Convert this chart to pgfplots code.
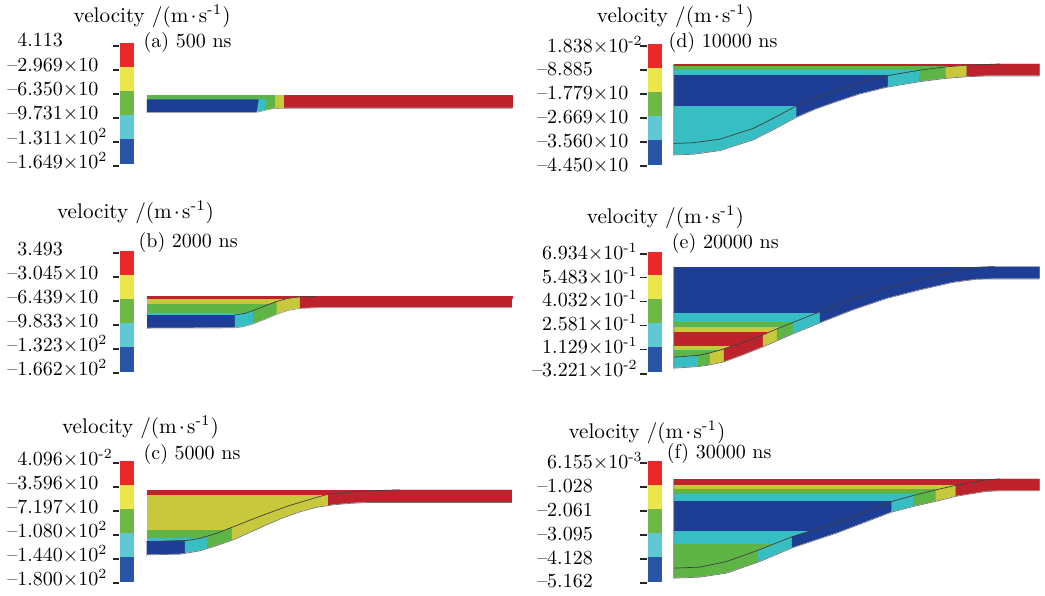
\documentclass[border=0pt]{standalone}
\usepackage{pgfplots}
\pgfplotsset{compat=1.18}
\definecolor{dred}{RGB}{190,35,45}
\definecolor{dyel}{RGB}{200,200,60}
\definecolor{dgrn}{RGB}{95,180,70}
\definecolor{dcyn}{RGB}{55,190,195}
\definecolor{dblu}{RGB}{30,62,150}
\definecolor{cred}{RGB}{235,40,40}
\definecolor{cyel}{RGB}{235,230,75}
\definecolor{cgrn}{RGB}{110,185,70}
\definecolor{ccyn}{RGB}{95,200,210}
\definecolor{cblu}{RGB}{40,85,165}
\newcommand{\rect}[5]{\addplot[fill=#1,draw=#1,line width=0.1pt] coordinates {(#2,#4)(#3,#4)(#3,#5)(#2,#5)};}
\newcommand{\poly}[2]{\addplot[fill=#1,draw=#1,line width=0.1pt] coordinates {#2};}
\newcommand{\mask}[1]{\addplot[fill=white,draw=white,line width=0.3pt] coordinates {#1};}
\newcommand{\cbar}[8]{%
 \rect{cred}{#1}{#2}{#3}{#4}\rect{cyel}{#1}{#2}{#4}{#5}\rect{cgrn}{#1}{#2}{#5}{#6}%
 \rect{ccyn}{#1}{#2}{#6}{#7}\rect{cblu}{#1}{#2}{#7}{#8}}
\newcommand{\tk}[3]{\addplot[black!85,line width=0.9pt] coordinates {(#1,#3)(#2,#3)};}
\newcommand{\tks}[8]{\tk{#1}{#2}{#3}\tk{#1}{#2}{#4}\tk{#1}{#2}{#5}\tk{#1}{#2}{#6}\tk{#1}{#2}{#7}\tk{#1}{#2}{#8}}
\newcommand{\lab}[3]{\node[lbl] at (axis cs:#1,#2) {#3};}
\newcommand{\ttl}[2]{\node[ttl] at (axis cs:#1,#2) {velocity /(m\kern0.1em$\cdot$\kern0.1em s\textsuperscript{-1})};}
\newcommand{\sq}{\textsuperscript{2}}
\newcommand{\ph}{\phantom{--}}
\tikzset{lbl/.style={font=\fontsize{10}{12}\selectfont,inner sep=0pt,anchor=base west},
ttl/.style={font=\fontsize{10.6}{12}\selectfont,inner sep=0pt,anchor=base west}}
\begin{document}
\begin{tikzpicture}
\begin{axis}[width=522.5pt,height=298pt,scale only axis,xmin=0,xmax=1045,ymin=0,ymax=596,
 y dir=reverse,hide axis,clip=false,no markers,every axis plot/.append style={line join=round}]
\addplot[fill=white,draw=none] coordinates {(0,0)(1045,0)(1045,596)(0,596)};
% ================= (a)
\cbar{120}{133}{43}{67}{91}{115}{139}{163}
\tks{113}{119}{46}{70}{94}{118}{142}{166}
\ttl{73.3}{22.7}
\lab{143.3}{47.7}{(a) 500 ns}
\lab{7}{47}{\ph4.113}
\lab{7}{71.5}{--2.969×10}
\lab{7}{96}{--6.350×10}
\lab{7}{120}{--9.731×10}
\lab{7}{144.5}{--1.311×10\sq}
\lab{7}{168.5}{--1.649×10\sq}
\rect{dred}{147}{512}{95}{113}
\rect{dyel}{147}{283}{95}{113}
\rect{dgrn}{147}{274}{95}{113}
\poly{dcyn}{(147,99.3)(266.5,99.3)(264.5,113)(147,113)}
\poly{dblu}{(147,99.6)(258.5,99.6)(256.5,113)(147,113)}
\mask{(147,112.7)(253.3,112.7)(258.3,112)(266.7,110)(273.3,108.7)(282.7,108.3)(512,108.3)(516,108.3)(516,116)(147,116)}
\addplot[black!45,line width=0.3pt] coordinates {(147,112.7)(253.3,112.7)(258.3,112)(266.7,110)(273.3,108.7)(282.7,108.3)(512,108.3)};
% ================= (b)
\cbar{120}{133}{251}{275}{299}{323}{347}{371}
\tks{113}{119}{253}{277}{301}{325}{349}{373}
\ttl{56.7}{219}
\lab{138.3}{247.7}{(b) 2000 ns}
\lab{7}{255.5}{\ph3.493}
\lab{7}{279.5}{--3.045×10}
\lab{7}{303.5}{--6.439×10}
\lab{7}{327.5}{--9.833×10}
\lab{7}{351.5}{--1.323×10\sq}
\lab{7}{375.5}{--1.662×10\sq}
\rect{dcyn}{146.7}{315}{296.5}{316}
\rect{dgrn}{146.7}{315}{296.5}{311.7}
\rect{dyel}{146.7}{315}{296.5}{302.7}
\rect{dred}{146.7}{512}{296.5}{298.3}
\poly{dblu}{(146.7,315)(235,315)(235,330)(146.7,330)}
\poly{dcyn}{(235,315)(245,313.5)(253.3,310.7)(253.3,330)(235,330)}
\poly{dgrn}{(253.3,310.7)(265,306)(276.7,301.5)(276.7,330)(253.3,330)}
\poly{dyel}{(276.7,301.5)(288,298.5)(300,297)(300,330)(276.7,330)}
\poly{dred}{(300,297)(315,296.5)(512,296.5)(512,330)(300,330)}
\mask{(146.7,328.3)(233,328)(243,327)(253.3,324)(265,319.5)(276.7,314.5)(288,310.5)(300,308.5)(320,307.8)(512,307.8)(516,307.8)(516,332)(146.7,332)}
\addplot[black!45,line width=0.3pt] coordinates {(146.7,328.3)(233,328)(243,327)(253.3,324)(265,319.5)(276.7,314.5)(288,310.5)(300,308.5)(320,307.8)(512,307.8)};
\addplot[black!75,line width=0.35pt] coordinates {(235,315)(245,313.5)(253.3,310.7)(265,306)(276.7,301.5)(288,298.5)(300,297)(315,296.5)};
% ================= (c)
\cbar{120}{133}{461}{485}{509}{533}{557}{581}
\tks{113}{119}{463}{487}{511}{535}{559}{583}
\ttl{61.7}{433.3}
\lab{143.3}{459.3}{(c) 5000 ns}
\lab{7}{465.5}{\ph4.096×10\textsuperscript{-2}}
\lab{7}{489.5}{--3.596×10}
\lab{7}{513.5}{--7.197×10}
\lab{7}{537.5}{--1.080×10\sq}
\lab{7}{561.5}{--1.440×10\sq}
\lab{7}{585.5}{--1.800×10\sq}
\rect{dcyn}{146.7}{330}{490}{543}
\rect{dgrn}{146.7}{330}{490}{537.7}
\rect{dyel}{146.7}{330}{490}{529}
\rect{dred}{146.7}{400}{490}{494.3}
\poly{dblu}{(146.7,541.7)(185,540.8)(185,557)(146.7,557)}
\poly{dcyn}{(185,540.8)(186.7,540.7)(200,538.5)(207,536.5)(207,557)(185,557)}
\poly{dgrn}{(207,536.5)(215,534)(232,527.5)(232,557)(207,557)}
\poly{dyel}{(232,527.5)(233.3,527)(253.3,519)(273.3,511.5)(290,505.5)(300,502.5)(315,498)(328.3,494.3)(328.3,557)(232,557)}
\poly{dred}{(328.3,494.3)(350,492.3)(366.7,491)(400,490)(512,490)(512,557)(328.3,557)}
\mask{(146.7,555)(180,554.3)(200,551)(216,546)(233.3,540)(250,532.5)(266.7,525)(283,518)(300,512)(316,507.5)(333.3,505)(350,503.5)(366.7,502.7)(512,502.7)(516,502.7)(516,559)(146.7,559)}
\addplot[black!55,line width=0.35pt] coordinates {(146.7,555)(180,554.3)(200,551)(216,546)(233.3,540)(250,532.5)(266.7,525)(283,518)(300,512)(316,507.5)(333.3,505)(350,503.5)(366.7,502.7)(512,502.7)};
\addplot[black!75,line width=0.35pt] coordinates {(146.7,541.7)(186.7,540.7)(200,538.5)(215,534)(233.3,527)(253.3,519)(273.3,511.5)(290,505.5)(300,502.5)(315,498)(328.3,494.3)(350,492.3)(366.7,491)(400,490)};
% ================= (d)
\cbar{648}{661.5}{44}{68}{92}{116}{140}{164}
\tks{640}{647}{46}{70}{94}{118}{142}{166}
\ttl{596.7}{22.7}
\lab{668.3}{47.7}{(d) 10000 ns}
\lab{537}{53}{\ph1.838×10\textsuperscript{-2}}
\lab{537}{75.5}{--8.885}
\lab{537}{99.5}{--1.779×10}
\lab{537}{123.5}{--2.669×10}
\lab{537}{147.5}{--3.560×10}
\lab{537}{171.5}{--4.450×10}
\rect{dcyn}{674}{1000}{64}{146}
\rect{dblu}{674}{1000}{64}{105.3}
\rect{dcyn}{674}{1000}{64}{74}
\rect{dgrn}{674}{1000}{64}{68.7}
\rect{dred}{674}{1000}{64}{65.5}
\poly{dcyn}{(674,143.5)(693.3,142.8)(720,139.2)(753.3,128.5)(775,117.5)(796.7,105.8)(796.7,157)(674,157)}
\poly{dblu}{(796.7,105.8)(816,97.5)(836.7,90.2)(860,82.5)(886.7,75.8)(888,75.5)(888,157)(796.7,157)}
\poly{dcyn}{(888,75.5)(920,70.2)(920,157)(888,157)}
\poly{dgrn}{(920,70.2)(946,66.9)(946,157)(920,157)}
\poly{dyel}{(946,66.9)(967,65.2)(967,157)(946,157)}
\poly{dred}{(967,65.2)(986.7,64.5)(1000,64)(1040,64)(1040,157)(967,157)}
\mask{(674,155)(693.3,154.3)(720,150.7)(753.3,140)(775,129)(796.7,117.3)(816,109)(836.7,101.7)(860,94)(886.7,87.3)(920,81.7)(945,78.5)(966.7,76.7)(986.7,76)(1040,76)(1045,76)(1045,159)(674,159)}
\addplot[black!55,line width=0.35pt] coordinates {(674,64)(674,155)(693.3,154.3)(720,150.7)(753.3,140)(775,129)(796.7,117.3)(816,109)(836.7,101.7)(860,94)(886.7,87.3)(920,81.7)(945,78.5)(966.7,76.7)(986.7,76)(1040,76)};
\addplot[black!75,line width=0.35pt] coordinates {(674,143.5)(693.3,142.8)(720,139.2)(753.3,128.5)(775,117.5)(796.7,105.8)(816,97.5)(836.7,90.2)(860,82.5)(886.7,75.8)(920,70.2)(946,66.9)(967,65.2)(986.7,64.5)(1000,64)};
% ================= (e)
\cbar{648}{661}{251.7}{275.5}{299.4}{323.2}{347.1}{371}
\tks{640}{647}{254}{277.5}{301.5}{325.5}{349.5}{374}
\ttl{586.7}{223.3}
\lab{671.7}{248.3}{(e) 20000 ns}
\lab{532}{260}{\ph6.934×10\textsuperscript{-1}}
\lab{532}{283.5}{\ph5.483×10\textsuperscript{-1}}
\lab{532}{307}{\ph4.032×10\textsuperscript{-1}}
\lab{532}{330.5}{\ph2.581×10\textsuperscript{-1}}
\lab{532}{353.5}{\ph1.129×10\textsuperscript{-1}}
\lab{532}{377}{--3.221×10\textsuperscript{-2}}
\rect{dgrn}{674}{1000}{266.7}{359}
\rect{dyel}{674}{1000}{266.7}{349.3}
\rect{dred}{674}{1000}{266.7}{345}
\rect{dyel}{674}{1000}{266.7}{330.7}
\rect{dgrn}{674}{1000}{266.7}{326}
\rect{dcyn}{674}{1000}{266.7}{320.7}
\rect{dblu}{674}{1000}{266.7}{311.7}
\poly{dcyn}{(674,357.3)(698,355.5)(698,371)(674,371)}
\poly{dgrn}{(698,355.5)(710,353)(710,371)(698,371)}
\poly{dyel}{(710,353)(724,349)(724,371)(710,371)}
\poly{dred}{(724,349)(743,342.5)(763,335)(763,371)(724,371)}
\poly{dyel}{(763,335)(777,329)(777,371)(763,371)}
\poly{dgrn}{(777,329)(793,322.5)(793,371)(777,371)}
\poly{dcyn}{(793,322.5)(820,312)(820,371)(793,371)}
\poly{dblu}{(820,312)(853,299)(887,288)(920,279.5)(953,271.5)(977,267.3)(995,266.7)(1040,266.7)(1040,371)(820,371)}
\mask{(674,368.3)(698,366.7)(710,365)(724,362)(743,355)(763,347)(777,341)(793,334)(820,323)(853,310)(887,298.5)(920,290)(953,282.5)(977,279.3)(1000,279)(1040,279)(1045,279)(1045,373)(674,373)}
\addplot[black!55,line width=0.35pt] coordinates {(674,266.7)(674,368.3)(698,366.7)(710,365)(724,362)(743,355)(763,347)(777,341)(793,334)(820,323)(853,310)(887,298.5)(920,290)(953,282.5)(977,279.3)(1000,279)(1040,279)};
\addplot[black!75,line width=0.35pt] coordinates {(674,357.3)(698,355.5)(710,353)(724,349)(743,342.5)(763,335)(777,329)(793,322.5)(820,312)(853,299)(887,288)(920,279.5)(953,271.5)(977,267.3)(995,266.7)};
% ================= (f)
\cbar{648}{661}{461.7}{485.5}{509.4}{533.2}{557.1}{581}
\tks{640}{647}{463.3}{487}{511}{535}{559}{583.3}
\ttl{568.3}{438.3}
\lab{666.7}{458.3}{(f) 30000 ns}
\lab{537}{468.5}{\ph6.155×10\textsuperscript{-3}}
\lab{537}{493}{--1.028}
\lab{537}{516.5}{--2.061}
\lab{537}{540.5}{--3.095}
\lab{537}{564.5}{--4.128}
\lab{537}{587.5}{--5.162}
\rect{dgrn}{674}{1000}{479}{570}
\rect{dcyn}{674}{1000}{479}{543}
\rect{dblu}{674}{1000}{479}{530}
\rect{dcyn}{674}{1000}{479}{500}
\rect{dgrn}{674}{1000}{479}{493.3}
\rect{dyel}{674}{1000}{479}{488.3}
\rect{dred}{674}{1000}{479}{484}
\poly{dgrn}{(674,568.3)(700,567.3)(726.7,561.7)(758,550.5)(758,581)(674,581)}
\poly{dcyn}{(758,550.5)(760,549.8)(792,537)(792,581)(758,581)}
\poly{dblu}{(792,537)(793.3,536.5)(836.7,523)(891.7,501.7)(891.7,581)(792,581)}
\poly{dcyn}{(891.7,501.7)(914,495.5)(914,581)(891.7,581)}
\poly{dgrn}{(914,495.5)(936,490)(936,581)(914,581)}
\poly{dyel}{(936,490)(956,485.5)(956,581)(936,581)}
\poly{dred}{(956,485.5)(986.7,480)(1000,479)(1040,479)(1040,581)(956,581)}
\mask{(674,578.3)(700,577.3)(726.7,573.3)(760,561.7)(793.3,547.7)(836.7,533.3)(891.7,512.3)(914,506.5)(936,501.5)(956,496.5)(986.7,491.5)(1000,491)(1040,491)(1045,491)(1045,583)(674,583)}
\addplot[black!55,line width=0.35pt] coordinates {(674,479)(674,578.3)(700,577.3)(726.7,573.3)(760,561.7)(793.3,547.7)(836.7,533.3)(891.7,512.3)(914,506.5)(936,501.5)(956,496.5)(986.7,491.5)(1000,491)(1040,491)};
\addplot[black!75,line width=0.35pt] coordinates {(674,568.3)(700,567.3)(726.7,561.7)(758,550.5)(792,537)(836.7,523)(891.7,501.7)(914,495.5)(936,490)(956,485.5)(986.7,480)(1000,479)};
\end{axis}
\end{tikzpicture}
\end{document}
